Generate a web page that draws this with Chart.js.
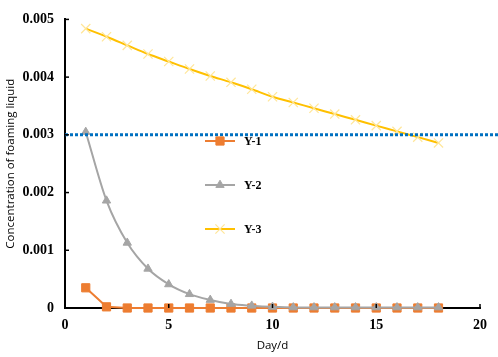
<!DOCTYPE html>
<html><head><meta charset="utf-8">
<script src="https://cdn.jsdelivr.net/npm/chart.js@4/dist/chart.umd.min.js"></script>
<style>html,body{margin:0;padding:0;background:#fff}#wrap{width:498px;height:357px;position:relative}</style>
</head><body><div id="wrap"><canvas id="c" width="498" height="357"></canvas></div>
<script>
const days = [1,2,3,4,5,6,7,8,9,10,11,12,13,14,15,16,17,18];
const y1 = [0.00035,0.00002,0,0,0,0,0,0,0,0,0,0,0,0,0,0,0,0];
const y2 = [0.00305,0.00186,0.00113,0.00068,0.00041,0.00024,0.00014,0.00007,0.00004,0.00002,0.00001,0.00001,0.00001,0.00001,0.00001,0.00001,0.00001,0.00001];
const y3 = [0.00484,0.00470,0.00455,0.00440,0.00427,0.00414,0.00402,0.00391,0.00379,0.00366,0.00356,0.00346,0.00336,0.00326,0.00316,0.00306,0.00296,0.00286];
const thresholdX = [0, 21];
const thresholdY = 0.003;
const seriesNames = ['Y-1','Y-2','Y-3'];
const xTicks = [0,5,10,15,20];
const yTicks = [0,0.001,0.002,0.003,0.004,0.005];

const pts = (xs, ys) => xs.map((x,i)=>({x, y: ys[i]}));
const tickFont = {family:'"Liberation Serif","Times New Roman",serif', size:14, weight:'bold'};
const titleFont = {family:'"Open Sans","Liberation Sans",sans-serif', size:11.5};

const legendPlugin = {
  id:'customLegend',
  afterDraw(chart){
    const ctx = chart.ctx;
    const ca = chart.chartArea;
    const x0 = ca.left + 140, len = 30, top = 141, gap = 44;
    [0,1,2].forEach(i=>{
      const ds = chart.data.datasets[i];
      const y = top + i*gap;
      ctx.save();
      ctx.strokeStyle = ds.borderColor; ctx.lineWidth = ds.borderWidth;
      ctx.beginPath(); ctx.moveTo(x0, y); ctx.lineTo(x0+len, y); ctx.stroke();
      ctx.fillStyle = ds.pointBackgroundColor; ctx.strokeStyle = ds.pointBorderColor; ctx.lineWidth = ds.pointBorderWidth;
      Chart.helpers.drawPoint(ctx, {pointStyle: ds.pointStyle, radius: ds.pointRadius, borderWidth: ds.pointBorderWidth, rotation:0}, x0+len/2, y);
      ctx.fillStyle = '#000';
      ctx.font = 'bold 12px "Liberation Serif","Times New Roman",serif';
      ctx.textBaseline = 'middle';
      ctx.fillText(seriesNames[i], x0+len+9, y+1);
      ctx.restore();
    });
  }
};

const inwardTicks = {
  id:'inwardTicks',
  afterDatasetsDraw(chart){
    const ctx = chart.ctx, ca = chart.chartArea, xs = chart.scales.x, ys = chart.scales.y;
    ctx.save(); ctx.strokeStyle = '#000'; ctx.lineWidth = 1.5;
    ys.ticks.forEach(t=>{ const p = ys.getPixelForValue(t.value); ctx.beginPath(); ctx.moveTo(ca.left, p); ctx.lineTo(ca.left+4, p); ctx.stroke(); });
    xs.ticks.forEach(t=>{ const p = xs.getPixelForValue(t.value); ctx.beginPath(); ctx.moveTo(p, ca.bottom); ctx.lineTo(p, ca.bottom-4); ctx.stroke(); });
    ctx.restore();
  }
};

new Chart(document.getElementById('c'), {
  type:'line',
  data:{datasets:[
    {label:seriesNames[0], data:pts(days,y1), borderColor:'#ED7D31', borderWidth:2, tension:0, clip:false,
     pointStyle:'rect', pointRadius:5.8, pointBackgroundColor:'#ED7D31', pointBorderColor:'#ED7D31', pointBorderWidth:1, order:3},
    {label:seriesNames[1], data:pts(days,y2), borderColor:'#A5A5A5', borderWidth:2, cubicInterpolationMode:'monotone', clip:false,
     pointStyle:'triangle', pointRadius:4.8, pointBackgroundColor:'#A5A5A5', pointBorderColor:'#A5A5A5', pointBorderWidth:1, order:2},
    {label:seriesNames[2], data:pts(days,y3), borderColor:'#FFC000', borderWidth:2, tension:0.3, clip:false,
     pointStyle:'crossRot', pointRadius:6.5, pointBackgroundColor:'#FFE699', pointBorderColor:'#FFE699', pointBorderWidth:1.2, order:1},
    {label:'threshold', data:thresholdX.map(x=>({x, y:thresholdY})), borderColor:'#0070C0', borderWidth:3, borderDash:[3,2],
     pointRadius:0, clip:false, order:0}
  ]},
  options:{
    responsive:false, animation:false,
    layout:{padding:{top:6,right:18,left:0,bottom:0}},
    plugins:{legend:{display:false}, tooltip:{enabled:false}},
    scales:{
      x:{type:'linear', min:0, max:20,
        afterBuildTicks(s){ s.ticks = xTicks.map(v=>({value:v})); },
        ticks:{font:tickFont, color:'#000', padding:9},
        grid:{display:false, drawTicks:false},
        border:{display:true, color:'#000', width:2},
        title:{display:true, text:'Day/d', font:titleFont, color:'#000', padding:{top:9}},
        afterFit(s){ s.height = 49; }
      },
      y:{type:'linear', min:0, max:0.005,
        afterBuildTicks(s){ s.ticks = yTicks.map(v=>({value:v})); },
        ticks:{font:tickFont, color:'#000', padding:11, callback:v=> v===0 ? '0' : v.toFixed(3)},
        grid:{display:false, drawTicks:false},
        border:{display:true, color:'#000', width:2},
        title:{display:true, text:'Concentration of foaming liquid', font:titleFont, color:'#000', padding:{bottom:0}},
        afterFit(s){ s.width = 65; }
      }
    }
  },
  plugins:[legendPlugin, inwardTicks]
});
</script></body></html>
